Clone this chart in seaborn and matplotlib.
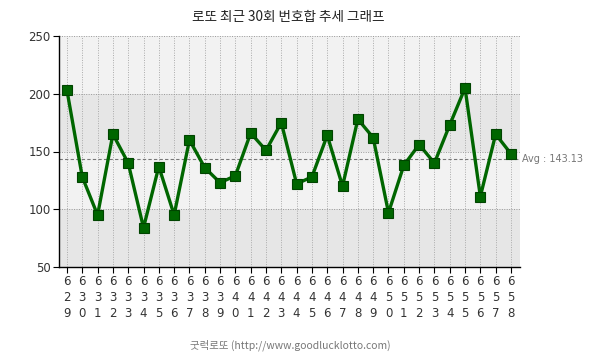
import matplotlib
matplotlib.use('Agg')
import matplotlib.pyplot as plt
import seaborn as sns
import pandas as pd

# 회차 / 번호합
rounds = [629, 630, 631, 632, 633, 634, 635, 636, 637, 638,
          639, 640, 641, 642, 643, 644, 645, 646, 647, 648,
          649, 650, 651, 652, 653, 654, 655, 656, 657, 658]
sums = [203, 128, 95, 165, 140, 84, 137, 95, 160, 136,
        123, 129, 166, 151, 175, 122, 128, 164, 120, 178,
        162, 97, 138, 156, 140, 173, 205, 111, 165, 148]

df = pd.DataFrame({'idx': range(len(rounds)), 'sum': sums})
avg = sum(sums) / len(sums)

sns.set_style('white')
plt.rcParams['font.family'] = ['Noto Sans CJK KR', 'DejaVu Sans']

fig = plt.figure(figsize=(6.05, 3.59), dpi=100)
ax = fig.add_axes([59 / 605, 1 - 267 / 359, 461 / 605, 231 / 359])

# bands
ax.axhspan(50, 100, color='#e6e6e6', zorder=0, lw=0)
ax.axhspan(100, 150, color='#f2f2f2', zorder=0, lw=0)
ax.axhspan(150, 200, color='#e6e6e6', zorder=0, lw=0)
ax.axhspan(200, 250, color='#f2f2f2', zorder=0, lw=0)

for i in df['idx']:
    ax.axvline(i, color='#aaaaaa', lw=0.7, ls=(0, (1, 1.5)), zorder=1)
for yv in [100, 150, 200, 250]:
    ax.axhline(yv, color='#999999', lw=0.7, ls=(0, (1, 1.5)), zorder=1)

ax.axhline(avg, color='#777777', lw=0.8, ls=(0, (3, 2)), zorder=2)
ax.text(29.75, avg, 'Avg : %.2f' % avg, fontsize=7, color='#777777',
        va='center', ha='left', family=['DejaVu Sans'])

sns.lineplot(data=df, x='idx', y='sum', color='#006600', lw=2.4,
             marker='s', markersize=7.5, markeredgecolor='#004400',
             markeredgewidth=0.8, ax=ax, zorder=3)

ax.set_xlim(-0.52, 29.59)
ax.set_ylim(50, 250)
ax.set_yticks([50, 100, 150, 200, 250])
ax.set_yticklabels(['50', '100', '150', '200', '250'], fontsize=8.5,
                   family=['DejaVu Sans'])
ax.set_xticks(list(df['idx']))
ax.set_xticklabels(['\n'.join(str(r)) for r in rounds], fontsize=8.5,
                   family=['DejaVu Sans'], linespacing=1.3)
ax.tick_params(axis='both', length=4, width=0.8, color='black', pad=2,
               labelcolor='#333333')
ax.tick_params(axis='x', direction='out', bottom=True)
ax.tick_params(axis='y', direction='out', left=True)
ax.set_xlabel('')
ax.set_ylabel('')

for s in ['top', 'right']:
    ax.spines[s].set_visible(False)
ax.spines['left'].set_color('black')
ax.spines['bottom'].set_color('black')
ax.spines['left'].set_linewidth(1)
ax.spines['bottom'].set_linewidth(1)
ax.axvline(29.59, color='#aaaaaa', lw=0.7, ls=(0, (1, 1.5)), zorder=1)

fig.text(288 / 605, 1 - 17 / 359, '로또 최근 30회 번호합 추세 그래프', ha='center',
         va='center', fontsize=9.8, color='#222222')
fig.text(290 / 605, 1 - 345 / 359, '굿럭로또 (http://www.goodlucklotto.com)',
         ha='center', va='center', fontsize=7.5, color='#777777')

fig.savefig('out.png', dpi=100)
